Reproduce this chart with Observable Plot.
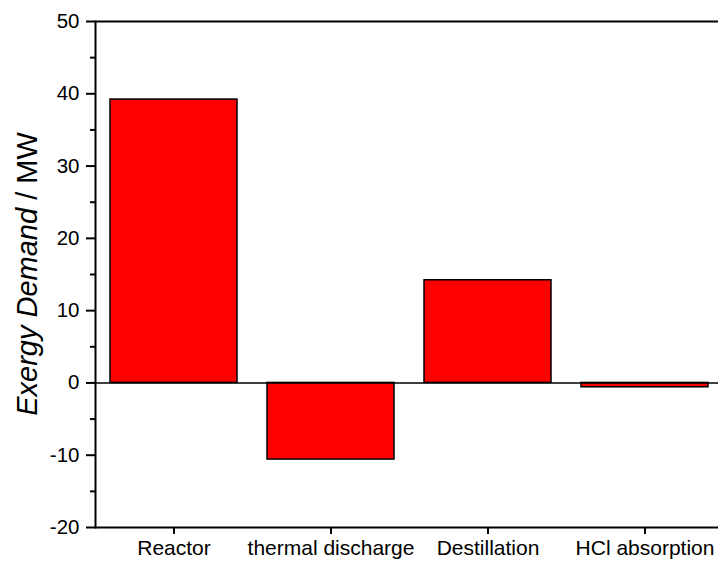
<!DOCTYPE html>
<html><head><meta charset="utf-8">
<script src="https://cdn.jsdelivr.net/npm/d3@7"></script>
<script src="https://cdn.jsdelivr.net/npm/@observablehq/plot@0.6"></script>
<style>
body{margin:0;overflow:hidden;background:#fff}
svg{font-family:Arial,"Liberation Sans",sans-serif}
</style>
</head><body><div id="chart"></div>
<script>
const categories = ["Reactor", "thermal discharge", "Destillation", "HCl absorption"];
const values = [39.2, -10.6, 14.2, -0.6];
const majorTicks = [-20, -10, 0, 10, 20, 30, 40, 50];
const minorTicks = [-15, -5, 5, 15, 25, 35, 45];
const yTitleItalic = "Exergy Demand";
const yTitleRest = " / MW";

const data = categories.map((c, i) => ({category: c, value: values[i]}));

const plot = Plot.plot({
  width: 718,
  height: 566,
  marginLeft: 95,
  marginRight: 0,
  marginTop: 21,
  marginBottom: 39,
  x: {domain: categories, range: [95, 723], paddingInner: 0.19, paddingOuter: 0.095, align: 0.5},
  y: {domain: [-20, 50]},
  style: {fontFamily: "Arial, 'Liberation Sans', sans-serif", color: "black", background: "white"},
  marks: [
    Plot.barY(data, {x: "category", y: "value", fill: "#ff0000", stroke: "#000", strokeWidth: 1.5}),
    Plot.ruleY([0], {stroke: "#000", strokeWidth: 1.5}),
    Plot.ruleY([50, -20], {stroke: "#000", strokeWidth: 2}),
    Plot.frame({anchor: "left", stroke: "#000", strokeWidth: 2}),
    Plot.axisY({ticks: majorTicks, tickSize: 9, tickPadding: 7, fontSize: 20.5, strokeWidth: 2, label: null, tickFormat: d => String(d)}),
    Plot.axisY({ticks: minorTicks, tickSize: 5, strokeWidth: 2, label: null, tickFormat: () => ""}),
    Plot.axisX({tickSize: 7, tickPadding: 6, fontSize: 21, strokeWidth: 2, label: null})
  ]
});
document.getElementById("chart").appendChild(plot);

const ys = plot.scale("y");
const cy = (ys.apply(50) + ys.apply(-20)) / 2;
const svg = d3.select(plot);
const t = svg.append("text")
  .attr("transform", `translate(37,${cy}) rotate(-90)`)
  .attr("text-anchor", "middle")
  .attr("font-size", 29)
  .attr("fill", "black");
t.append("tspan").attr("font-style", "italic").text(yTitleItalic);
t.append("tspan").text(yTitleRest);
</script>
</body></html>
